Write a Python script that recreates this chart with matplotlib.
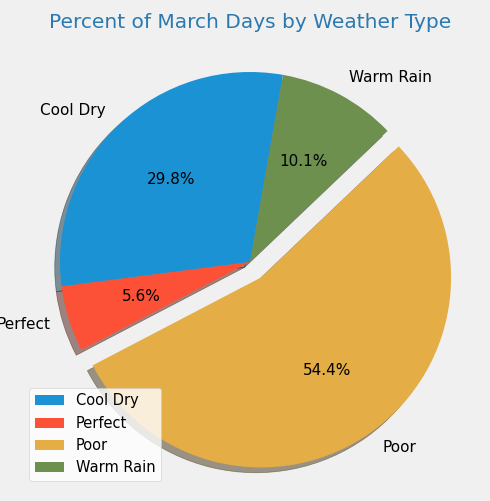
import matplotlib
matplotlib.use("Agg")
import matplotlib.pyplot as plt

plt.style.use("fivethirtyeight")

labels = ["Cool Dry", "Perfect", "Poor", "Warm Rain"]
shares = [29.8, 5.6, 54.4, 10.1]
explode = [0, 0, 0.1, 0]
colors = ["#1a92d4", "#fc5136", "#e4ad45", "#6d904f"]

total = sum(shares)

fig = plt.figure(figsize=(4.9, 5.01), dpi=100)
fig.patch.set_facecolor("#f0f0f0")
# 1 data unit ~ 190 px, pie centre at about (250, 262) px
L = 1.3
S = 2 * L * 190
ax = fig.add_axes([(250 - S / 2) / 490, (239 - S / 2) / 501, S / 490, S / 501])
ax.pie(shares, labels=labels, explode=explode, colors=colors,
       autopct=lambda p: f"{p * total / 100:.1f}%",
       shadow=True, startangle=80, textprops={"fontsize": 11})
ax.set_xlim(-L, L)
ax.set_ylim(-L, L)
ax.set_aspect("equal")
ax.axis("off")
fig.text(0.51, 0.955, "Percent of March Days by Weather Type", color="#2a7ab0",
         fontsize=14.5, ha="center", va="center")
fig.legend(labels, loc="lower left", bbox_to_anchor=(0.045, 0.025), fontsize=10.5,
           facecolor="white")
plt.savefig("out.png", dpi=100)
